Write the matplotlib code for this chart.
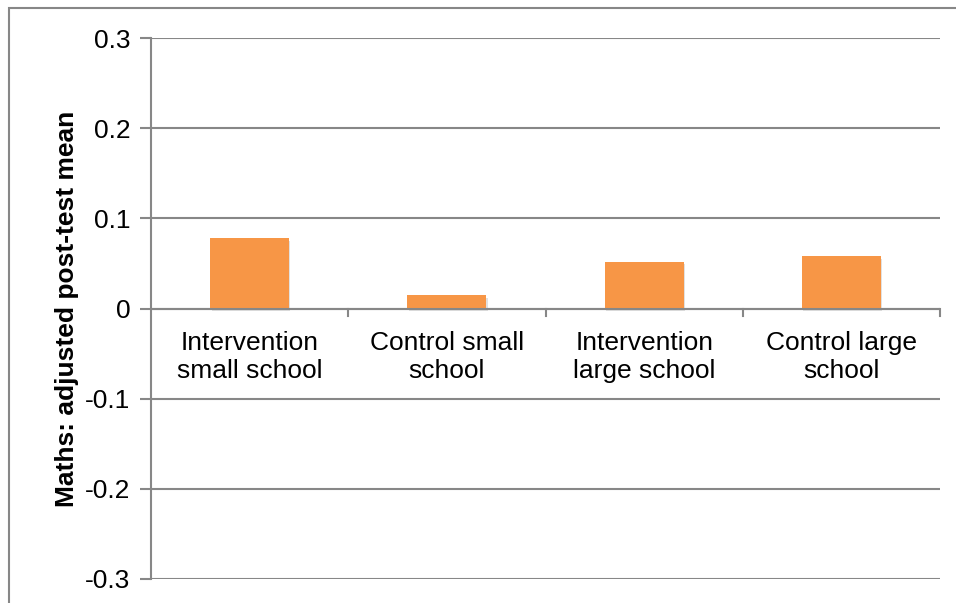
import matplotlib
matplotlib.use("Agg")
import matplotlib.pyplot as plt
import matplotlib.patheffects as pe
from matplotlib.patches import Rectangle

categories = ["Intervention\nsmall school", "Control small\nschool",
              "Intervention\nlarge school", "Control large\nschool"]
values = [0.078, 0.015, 0.052, 0.058]
yticks = [-0.3, -0.2, -0.1, 0, 0.1, 0.2, 0.3]
ylabel = "Maths: adjusted post-test mean"

plt.rcParams['font.family'] = ['Liberation Sans', 'DejaVu Sans']
grey = "#878787"
fs = 19

fig = plt.figure(figsize=(9.56, 6.03), dpi=100)
W, H = 956, 603
ax = fig.add_axes([151 / W, (H - 579) / H, (940 - 151) / W, (579 - 38) / H])

# outer chart-area border (left and top edges visible)
fig.add_artist(Rectangle((9 / W, -0.1), 1.2, (H - 8) / H + 0.1, transform=fig.transFigure,
                         fill=False, edgecolor=grey, linewidth=1.5))

x = list(range(len(categories)))
bars = ax.bar(x, values, width=0.4, color="#F79646", zorder=3)
for b in bars:
    b.set_path_effects([pe.SimplePatchShadow(offset=(1, -2), shadow_rgbFace="#aaaaaa", alpha=0.35),
                        pe.Normal()])

ax.set_ylim(-0.3, 0.3)
ax.set_xlim(-0.5, len(categories) - 0.5)
ax.set_yticks(yticks)
ax.set_yticklabels([("%g" % v) for v in yticks], fontsize=fs)
ax.yaxis.grid(True, color=grey, linewidth=1.5, zorder=0)
ax.set_axisbelow(True)

for s in ["top", "right", "bottom"]:
    ax.spines[s].set_visible(False)
ax.spines["left"].set_color(grey)
ax.spines["left"].set_linewidth(1.5)
ax.tick_params(axis="y", length=8, width=1.5, color=grey, pad=7)

# category axis at zero
ax.axhline(0, color=grey, linewidth=1.5, zorder=4)
ax.set_xticks([])
for i, lab in enumerate(categories):
    ax.text(i, -0.025, lab, ha="center", va="top", fontsize=fs, linespacing=1.2)
for i in range(1, len(categories) + 1):
    ax.plot([i - 0.5, i - 0.5], [0, -0.0085], color=grey, linewidth=1.5, clip_on=False, zorder=4)

ax.set_ylabel(ylabel, fontsize=fs, fontweight="bold", labelpad=4)

fig.savefig("out.png", dpi=100)
